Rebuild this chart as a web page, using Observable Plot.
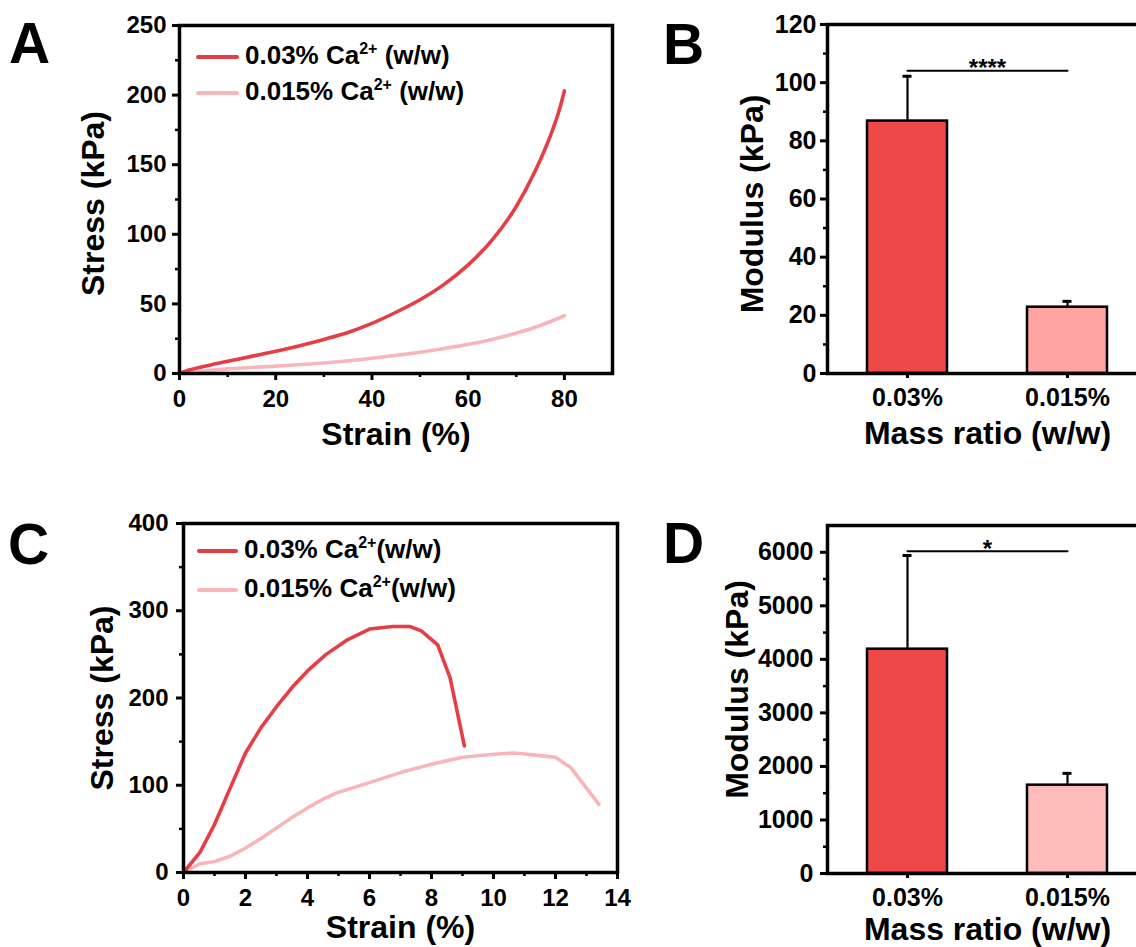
<!DOCTYPE html>
<html>
<head>
<meta charset="utf-8">
<script src="https://cdn.jsdelivr.net/npm/d3@7"></script>
<script src="https://cdn.jsdelivr.net/npm/@observablehq/plot@0.6"></script>
<style>
  html, body { margin: 0; padding: 0; background: #fff; overflow: hidden; width: 1136px; height: 947px; }
  #root { position: relative; width: 1136px; height: 947px; overflow: hidden;
          font-family: "Liberation Sans", Arial, Helvetica, sans-serif; font-weight: bold; color: #000; }
  .panel { position: absolute; }
  .panel svg { max-width: none !important; display: block; }
  .letter { position: absolute; font-size: 57px; line-height: 56px; font-weight: bold; }
  .leg { position: absolute; display: flex; align-items: center; height: 30px; font-size: 26px; line-height: 30px; white-space: nowrap; }
  .leg .sw { display: inline-block; height: 4px; border-radius: 2px; margin-right: 6px; }
  .leg .sup { font-size: 16px; position: relative; top: -10px; }
</style>
</head>
<body>
<div id="root">
  <div class="panel" id="pA" style="left:0px;top:0px;width:640px;height:460px"></div>
  <div class="panel" id="pB" style="left:620px;top:0px;width:540px;height:460px"></div>
  <div class="panel" id="pC" style="left:0px;top:490px;width:640px;height:457px"></div>
  <div class="panel" id="pD" style="left:620px;top:490px;width:540px;height:457px"></div>

  <div class="letter" style="left:9px;top:15px">A</div>
  <div class="letter" style="left:663px;top:16px">B</div>
  <div class="letter" style="left:8px;top:516px">C</div>
  <div class="letter" style="left:663px;top:515px">D</div>

  <div class="leg" style="left:196px;top:42px"><span class="sw" style="width:43px;background:#E63E45"></span><span>0.03% Ca<span class="sup">2+</span> (w/w)</span></div>
  <div class="leg" style="left:196px;top:78px"><span class="sw" style="width:43px;background:#F8B6BA"></span><span>0.015% Ca<span class="sup">2+</span> (w/w)</span></div>
  <div class="leg" style="left:197px;top:536px"><span class="sw" style="width:41px;background:#E63E45"></span><span>0.03% Ca<span class="sup">2+</span>(w/w)</span></div>
  <div class="leg" style="left:197px;top:575px"><span class="sw" style="width:41px;background:#F8B6BA"></span><span>0.015% Ca<span class="sup">2+</span>(w/w)</span></div>
</div>
<script>
// ---------------- Data ----------------
// Panel A: compression stress-strain
const strainA_03  = [0, 2, 5, 10, 15, 20, 25, 30, 35, 40, 45, 50, 55, 60, 65, 70, 74, 77, 79, 80];
const stressA_03  = [0, 2.5, 5, 8.8, 12.3, 16, 20, 24.5, 29.5, 36, 44, 53, 64, 78, 96, 120, 146, 170, 190, 203];
const strainA_015 = [0, 5, 10, 20, 30, 40, 50, 55, 60, 65, 70, 75, 80];
const stressA_015 = [0, 1.8, 3.3, 5.3, 7.6, 11, 15.3, 18, 21, 24.5, 29, 34.5, 41.5];

// Panel C: tensile stress-strain
const strainC_03  = [0, 0.53, 1.0, 1.46, 2.0, 2.5, 3.0, 3.5, 4.0, 4.6, 5.3, 6.0, 6.75, 7.3, 7.67, 8.2, 8.6, 9.06];
const stressC_03  = [0, 23, 55, 93, 137, 166, 190, 212, 231, 250, 267, 279, 282, 282, 277, 261, 223, 145];
const strainC_015 = [0, 0.53, 1.0, 1.46, 2.0, 2.5, 3.0, 3.5, 4.0, 4.5, 5.0, 6.0, 7.0, 8.0, 9.0, 10.0, 10.7, 11.5, 12.0, 12.5, 13.4];
const stressC_015 = [0, 10, 12.6, 18, 28, 39, 51, 63, 74, 84, 92, 103, 114.5, 124, 132, 135.5, 137, 134, 132, 120, 78];

// Panels B and D: modulus bars
const massRatios   = ["0.03%", "0.015%"];
const modulusB     = [86.8, 22.8];
const modulusBErr  = [15.4, 2.0];
const sigB         = 104.1;
const sigBLabel    = "****";
const modulusD     = [4190, 1650];
const modulusDErr  = [1750, 220];
const sigD         = 6020;
const sigDLabel    = "*";

// Tick values
const ticksAx = [0, 20, 40, 60, 80],            minorAx = [10, 30, 50, 70];
const ticksAy = [0, 50, 100, 150, 200, 250],    minorAy = [25, 75, 125, 175, 225];
const ticksCx = [0, 2, 4, 6, 8, 10, 12, 14],    minorCx = [1, 3, 5, 7, 9, 11, 13];
const ticksCy = [0, 100, 200, 300, 400],        minorCy = [50, 150, 250, 350];
const ticksBy = [0, 20, 40, 60, 80, 100, 120],  minorBy = [10, 30, 50, 70, 90, 110];
const ticksDy = [0, 1000, 2000, 3000, 4000, 5000, 6000], minorDy = [500, 1500, 2500, 3500, 4500, 5500];

// Colours
const darkRed = "#E63E45", lightRed = "#F8B6BA";
const barColorsB = ["#EE4848", "#FFA3A3"];
const barColorsD = ["#EE4848", "#FFBABA"];

// ---------------- Helpers ----------------
const FONT = "'Liberation Sans', Arial, Helvetica, sans-serif";
const baseStyle = {fontFamily: FONT, fontWeight: "bold", fontSize: "24px", color: "#000", background: "transparent", overflow: "visible"};
const zip = (xs, ys, name) => xs.map((x, i) => ({strain: x, stress: ys[i], series: name}));
const none = () => "";
const xTitleMark = (t, dy) => Plot.text([t], {text: d => d, frameAnchor: "bottom", textAnchor: "middle", lineAnchor: "middle", dy, fontSize: 32, fontWeight: "bold"});
const yTitleMark = (t, dx, dy = 0) => Plot.text([t], {text: d => d, frameAnchor: "left", textAnchor: "middle", lineAnchor: "middle", dx, dy, rotate: -90, fontSize: 32, fontWeight: "bold"});

function curvePanel({width, height, margins, xDomain, yDomain, xt, xm, yt, ym, series, xTitle, yTitle, xTitleDy, yTitleDx, yTitleDy, curve, tickFont, xPad, yPad}) {
  return Plot.plot({
    width, height, ...margins,
    x: {domain: xDomain}, y: {domain: yDomain},
    style: baseStyle,
    marks: [
      ...series.map(s => Plot.line(s.data, {x: "strain", y: "stress", stroke: s.color, strokeWidth: 3.6, curve, strokeLinejoin: "round", strokeLinecap: "round"})),
      Plot.frame({strokeWidth: 3.5}),
      Plot.axisX({ticks: xt, tickSize: 7, tickPadding: xPad, strokeWidth: 3, fontSize: tickFont, label: null, tickFormat: d => String(d)}),
      Plot.axisX({ticks: xm, tickSize: 4, strokeWidth: 2.5, label: null, tickFormat: none}),
      Plot.axisY({ticks: yt, tickSize: 7, tickPadding: yPad, strokeWidth: 3, fontSize: tickFont, label: null, tickFormat: d => String(d)}),
      Plot.axisY({ticks: ym, tickSize: 4, strokeWidth: 2.5, label: null, tickFormat: none}),
      xTitleMark(xTitle, xTitleDy),
      yTitleMark(yTitle, yTitleDx, yTitleDy)
    ]
  });
}

function barPanel({height, margins, yDomain, values, errs, colors, yt, ym, sig, sigLabel, yTitleDx, yTitleDy, xTitleDy, yPad}) {
  const data = massRatios.map((r, i) => ({ratio: r, value: values[i], top: values[i] + errs[i]}));
  const sigData = massRatios.map(r => ({ratio: r, y: sig}));
  return Plot.plot({
    width: 540, height, ...margins,
    x: {type: "band", domain: massRatios, paddingInner: 0.5, paddingOuter: 0.25},
    y: {domain: yDomain},
    color: {domain: massRatios, range: colors},
    style: baseStyle,
    marks: [
      Plot.ruleX(data, {x: "ratio", y1: "value", y2: "top", strokeWidth: 2.2}),
      Plot.tickY(data, {x: "ratio", y: "top", insetLeft: 35.5, insetRight: 35.5, strokeWidth: 3}),
      Plot.barY(data, {x: "ratio", y: "value", fill: "ratio", stroke: "#000", strokeWidth: 2.5}),
      Plot.line(sigData, {x: "ratio", y: "y", stroke: "#000", strokeWidth: 2}),
      Plot.text([sigLabel], {text: d => d, x: () => massRatios[0], y: () => sig, dx: 80, dy: -2, fontSize: 24, fontWeight: "bold"}),
      Plot.frame({strokeWidth: 3.5}),
      Plot.axisX({tickSize: 5, tickPadding: 10, strokeWidth: 3, fontSize: 25, label: null}),
      Plot.axisY({ticks: yt, tickSize: 7, tickPadding: yPad, strokeWidth: 3, fontSize: 25, label: null, tickFormat: d => String(d)}),
      Plot.axisY({ticks: ym, tickSize: 4, strokeWidth: 2.5, label: null, tickFormat: none}),
      xTitleMark("Mass ratio (w/w)", xTitleDy),
      yTitleMark("Modulus (kPa)", yTitleDx, yTitleDy)
    ]
  });
}

// ---------------- Panels ----------------
document.getElementById("pA").append(curvePanel({
  width: 640, height: 460,
  margins: {marginLeft: 179, marginRight: 28, marginTop: 25, marginBottom: 87},
  xDomain: [0, 90], yDomain: [0, 250],
  xt: ticksAx, xm: minorAx, yt: ticksAy, ym: minorAy,
  series: [
    {data: zip(strainA_015, stressA_015, "0.015%"), color: lightRed},
    {data: zip(strainA_03, stressA_03, "0.03%"), color: darkRed}
  ],
  xTitle: "Strain (%)", yTitle: "Stress (kPa)", xTitleDy: 61, yTitleDx: -86, yTitleDy: 4,
  curve: "monotone-x", tickFont: 24, xPad: 9, yPad: 6
}));

document.getElementById("pC").append(curvePanel({
  width: 640, height: 457,
  margins: {marginLeft: 183, marginRight: 23, marginTop: 33, marginBottom: 75},
  xDomain: [0, 14], yDomain: [0, 400],
  xt: ticksCx, xm: minorCx, yt: ticksCy, ym: minorCy,
  series: [
    {data: zip(strainC_015, stressC_015, "0.015%"), color: lightRed},
    {data: zip(strainC_03, stressC_03, "0.03%"), color: darkRed}
  ],
  xTitle: "Strain (%)", yTitle: "Stress (kPa)", xTitleDy: 55, yTitleDx: -81, yTitleDy: 0,
  curve: "linear", tickFont: 24, xPad: 9, yPad: 8
}));

document.getElementById("pB").append(barPanel({
  height: 460,
  margins: {marginLeft: 207, marginRight: 13, marginTop: 24, marginBottom: 87},
  yDomain: [0, 120], values: modulusB, errs: modulusBErr, colors: barColorsB,
  yt: ticksBy, ym: minorBy, sig: sigB, sigLabel: sigBLabel,
  yTitleDx: -75, yTitleDy: 5, xTitleDy: 60, yPad: 4
}));

document.getElementById("pD").append(barPanel({
  height: 457,
  margins: {marginLeft: 207, marginRight: 13, marginTop: 35, marginBottom: 74},
  yDomain: [0, 6500], values: modulusD, errs: modulusDErr, colors: barColorsD,
  yt: ticksDy, ym: minorDy, sig: sigD, sigLabel: sigDLabel,
  yTitleDx: -90, yTitleDy: -10, xTitleDy: 56, yPad: 7
}));
</script>
</body>
</html>
